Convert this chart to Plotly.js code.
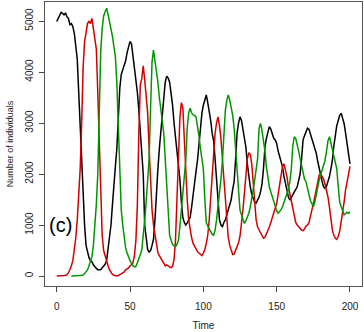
<!DOCTYPE html>
<html>
<head>
<meta charset="utf-8">
<script src="https://cdn.plot.ly/plotly-3.0.1.min.js"></script>
<style>
html,body{margin:0;padding:0;background:#fff;}
#chart{width:364px;height:332px;}
</style>
</head>
<body>
<div id="chart"></div>
<script>
// Time steps 0..200
const time = Array.from({length: 201}, (_, i) => i);

// Black series (t = 0..200)
const blackValues = [
4990,5050,5100,5170,5150,5120,5160,5080,5050,4930,
4950,4890,4760,4550,4250,3600,2900,2400,1600,1000,
600,450,360,300,280,220,180,150,125,118,
125,160,190,230,300,500,750,1000,1400,1900,
2150,2500,3100,3680,3950,4050,4150,4220,4380,4520,
4600,4550,4300,4100,3900,3600,3250,2850,2470,2000,
1000,700,520,470,500,600,720,1100,1700,2100,
2500,2850,3200,3500,3800,3920,3880,3800,3600,3350,
3000,2750,2500,2250,1900,1450,1150,1050,1000,1040,
1100,1150,1350,1620,1850,2050,2270,2600,2950,3190,
3350,3450,3550,3400,3250,3050,2800,2650,2300,1900,
1400,1100,1000,970,1050,1100,1200,1300,1360,1500,
1700,1850,2300,2800,3000,3120,3050,2900,2700,2530,
2200,1950,1750,1600,1500,1450,1430,1480,1550,1650,
1800,2100,2530,2700,2800,2930,2880,2800,2700,2670,
2600,2450,2350,2250,2140,1950,1800,1650,1550,1490,
1550,1600,1650,1700,1750,1850,2000,2300,2670,2750,
2850,2900,2880,2800,2700,2600,2500,2410,2250,2100,
2000,1850,1750,1720,1760,1850,1950,2100,2270,2550,
2800,2950,3050,3150,3190,3100,2990,2800,2600,2400,
2200
];

// Red series (t = 0..200)
const redValues = [
0,0,0,0,5,10,15,25,60,120,
200,300,500,750,1100,1600,2100,3000,4100,4600,
4800,4950,5000,4950,5050,4860,4700,4450,3600,2500,
1500,800,500,380,300,200,120,60,30,15,
5,0,10,20,40,60,80,120,140,160,
200,220,260,400,700,1400,2800,3750,3870,4120,
3850,3550,3200,2500,1800,1300,1000,800,600,460,
400,350,300,250,200,220,200,180,160,190,
320,700,1500,2400,3100,3400,3300,2700,2000,1500,
1100,900,750,640,580,520,480,450,420,400,
450,520,640,800,1100,1500,2000,2500,2800,3000,
3120,2950,2700,2300,1900,1400,1000,750,600,480,
420,430,500,580,650,780,1000,1300,1620,1950,
2300,2420,2380,2200,1800,1400,1100,960,900,850,
780,740,760,820,900,960,1050,1150,1250,1330,
1420,1600,1800,1950,2150,2200,2100,1950,1750,1620,
1450,1300,1160,1050,1000,960,930,900,890,920,
980,1000,1040,1150,1300,1420,1550,1700,1900,1980,
2000,1950,1900,1800,1700,1550,1350,1100,900,800,
740,720,780,880,1050,1230,1450,1690,1850,2000,
2150
];

// Green series (t = 10..200)
const greenStart = 10;
const greenValues = [
0,0,0,0,5,5,10,15,20,50,
90,120,200,280,380,600,970,1400,2000,3200,
4400,4850,5100,5180,5250,5130,5000,4850,4700,4500,
4300,3780,2800,1800,1300,1000,750,550,450,350,
300,250,200,180,190,260,330,420,510,750,
1100,1450,1900,2300,3300,4200,4430,4240,4050,3800,
3500,3250,2950,2800,2300,1700,1100,800,700,620,
590,575,620,700,970,1300,1620,1950,2270,2900,
3200,3290,3200,3160,3150,3120,2950,2750,2500,2300,
2100,1500,1050,980,930,880,820,800,900,1100,
1350,1600,1900,2250,2900,3250,3450,3550,3450,3320,
3150,2900,2500,2000,1500,1290,1200,1100,1030,1080,
1150,1230,1350,1500,1700,1880,2100,2300,2900,2990,
2850,2670,2450,2140,1900,1750,1650,1550,1450,1350,
1280,1230,1260,1300,1360,1450,1550,1620,1700,1850,
2100,2550,2730,2700,2600,2450,2300,2140,2010,1900,
1850,1750,1600,1480,1400,1360,1450,1620,1750,1880,
1980,2080,2150,2270,2450,2650,2730,2600,2470,2350,
2200,2100,1750,1450,1360,1280,1200,1220,1250,1230,
1260
];
const greenTime = time.slice(greenStart, greenStart + greenValues.length);

const xTicks = [0, 50, 100, 150, 200];
const yTicks = [0, 1000, 2000, 3000, 4000, 5000];

const lineW = 1.5;
const traces = [
  {x: time, y: blackValues, type: 'scatter', mode: 'lines', line: {color: '#000000', width: lineW}, hoverinfo: 'skip'},
  {x: time, y: redValues, type: 'scatter', mode: 'lines', line: {color: '#D40000', width: lineW}, hoverinfo: 'skip'},
  {x: greenTime, y: greenValues, type: 'scatter', mode: 'lines', line: {color: '#009600', width: lineW}, hoverinfo: 'skip'}
];

const axisFont = {family: 'Liberation Sans, Arial, sans-serif', size: 10, color: '#222'};

const layout = {
  width: 364, height: 332,
  margin: {l: 45, r: 2, t: 2, b: 46},
  paper_bgcolor: '#ffffff', plot_bgcolor: '#ffffff',
  showlegend: false,
  xaxis: {
    range: [-8, 208.2], tickvals: xTicks, ticktext: xTicks.map(String),
    ticks: 'outside', ticklen: 5, tickwidth: 1, tickcolor: '#444',
    showline: true, mirror: true, linecolor: '#555', linewidth: 1,
    showgrid: false, zeroline: false, tickfont: axisFont,
    ticklabelstandoff: 6,
    title: {text: 'Time', font: axisFont, standoff: 10}
  },
  yaxis: {
    range: [-196, 5373], tickvals: yTicks, ticktext: yTicks.map(String),
    ticks: 'outside', ticklen: 5, tickwidth: 1, tickcolor: '#444',
    showline: true, mirror: true, linecolor: '#555', linewidth: 1,
    showgrid: false, zeroline: false, tickfont: axisFont, tickangle: -90,
    ticklabelstandoff: 2,
    title: {text: 'Number of individuals', font: {family: 'Liberation Sans, Arial, sans-serif', size: 9, color: '#222'}, standoff: 8}
  },
  annotations: [{
    text: '(c)', x: 2.3, y: 1000, xref: 'x', yref: 'y', showarrow: false,
    xanchor: 'center', yanchor: 'middle',
    font: {family: 'Liberation Sans, Arial, sans-serif', size: 20, color: '#000'}
  }]
};

Plotly.newPlot('chart', traces, layout, {staticPlot: true, displayModeBar: false});
</script>
</body>
</html>
